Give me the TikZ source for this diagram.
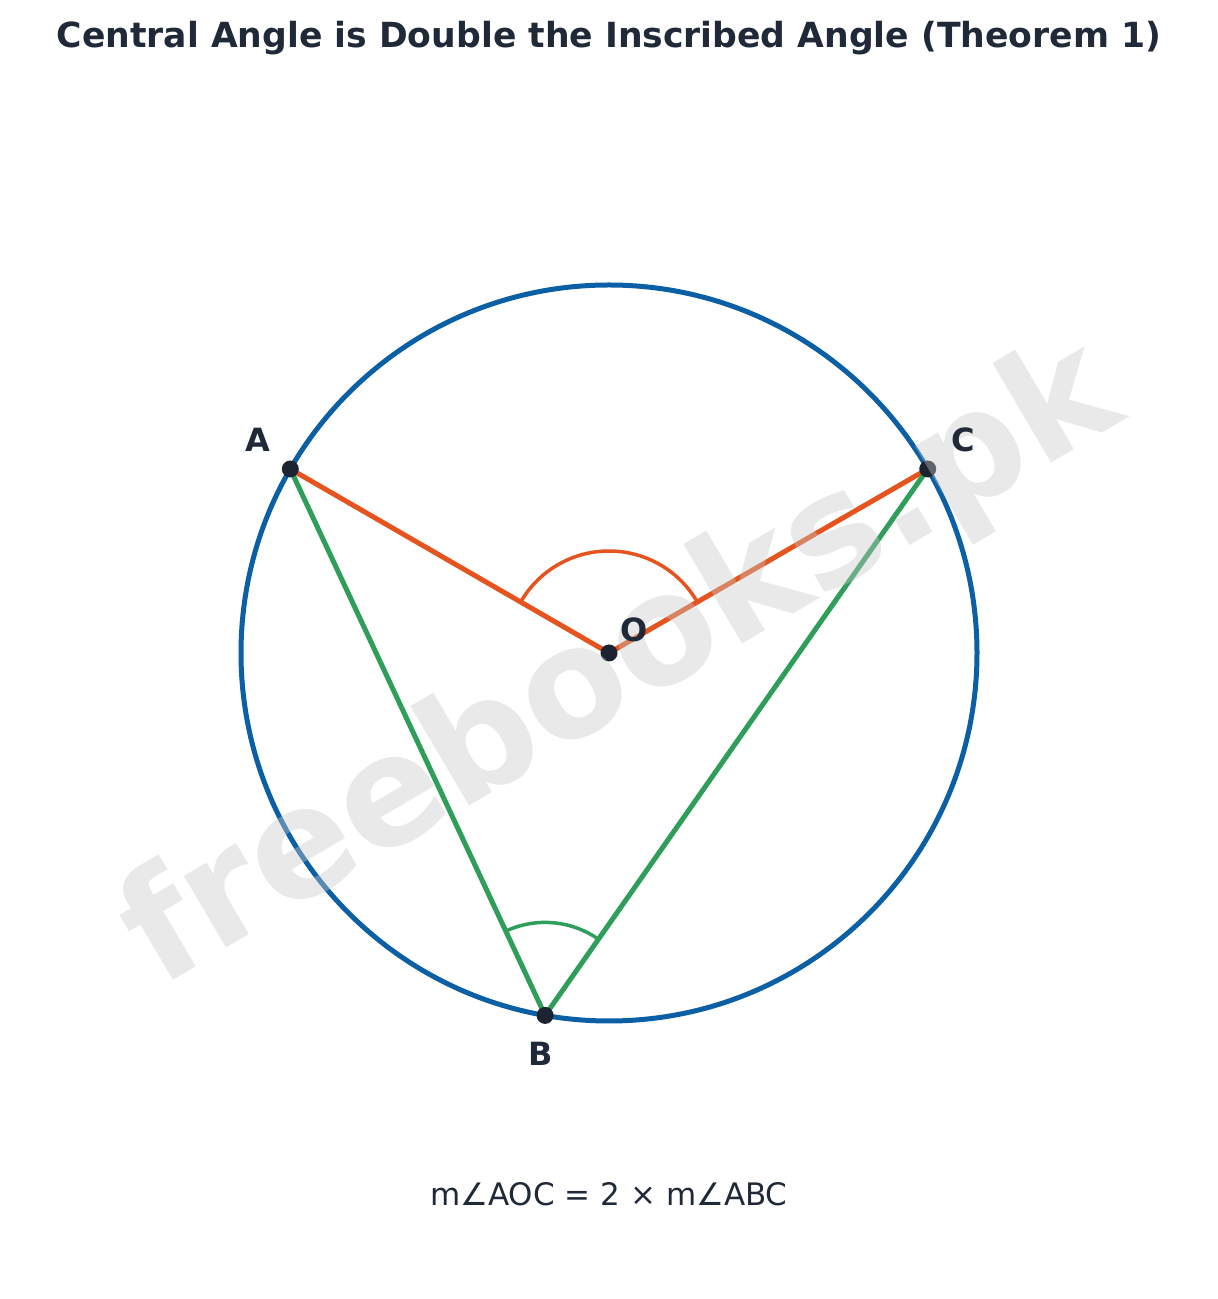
\documentclass[tikz,border=0pt]{standalone}
\usepackage{fontspec}
\setmainfont{DejaVu Sans}
\usetikzlibrary{calc}
\begin{document}
\begin{tikzpicture}[x=1pt,y=1pt,
  txt/.style={text=ink, inner sep=0pt, anchor=base},
  ptlabel/.style={txt, font=\fontsize{32}{38}\selectfont\bfseries},
  dotmark/.style={fill=dotc},
  circ/.style={draw=circblue, line width=5pt},
  radius/.style={draw=orng, line width=5pt},
  chord/.style={draw=grn, line width=5pt},
  anglearc/.style={line width=3.5pt}
]
\definecolor{ink}{HTML}{1F2937}
\definecolor{circblue}{HTML}{0B5FA5}
\definecolor{orng}{HTML}{E5541F}
\definecolor{grn}{HTML}{2E9E5A}
\definecolor{dotc}{HTML}{1C2331}
\definecolor{wm}{HTML}{C8C8C8}
\useasboundingbox (0,0) rectangle (1218,1299);
\fill[white] (0,0) rectangle (1218,1299);

\coordinate (O) at (609,646);
\coordinate (A) at ($(O)+(150:368)$);
\coordinate (C) at ($(O)+(30:368)$);
\coordinate (B) at ($(O)+(-100:368)$);

\node[txt, font=\fontsize{34.6}{42}\selectfont\bfseries] (title) at (609,1251) {Central Angle is Double the Inscribed Angle (Theorem 1)};

\draw[circ] (O) circle (368);

\draw[radius] (A) -- (O) -- (C);
\draw[chord] (A) -- (B) -- (C);

\draw[anglearc, draw=orng] ($(O)+(30:102)$) arc (30:150:102);
\draw[anglearc, draw=grn] ($(B)+(55:93)$) arc (55:115:93);

\foreach \p in {A,B,C,O} \fill[dotmark] (\p) circle (8.5);

\node[text=wm, opacity=0.4, rotate=30.5, font=\fontsize{152}{160}\selectfont\bfseries, inner sep=0pt] (wmark) at (622,632) {freebooks.pk};

\node[ptlabel] (lA) at (258,847) {A};
\node[ptlabel] (lC) at (963,847) {C};
\node[ptlabel] (lO) at (634,657) {O};
\node[ptlabel] (lB) at (541,233) {B};

\node[txt, font=\fontsize{31}{37}\selectfont] (formula) at (609,93) {m∠AOC = 2 × m∠ABC};
\end{tikzpicture}
\end{document}
